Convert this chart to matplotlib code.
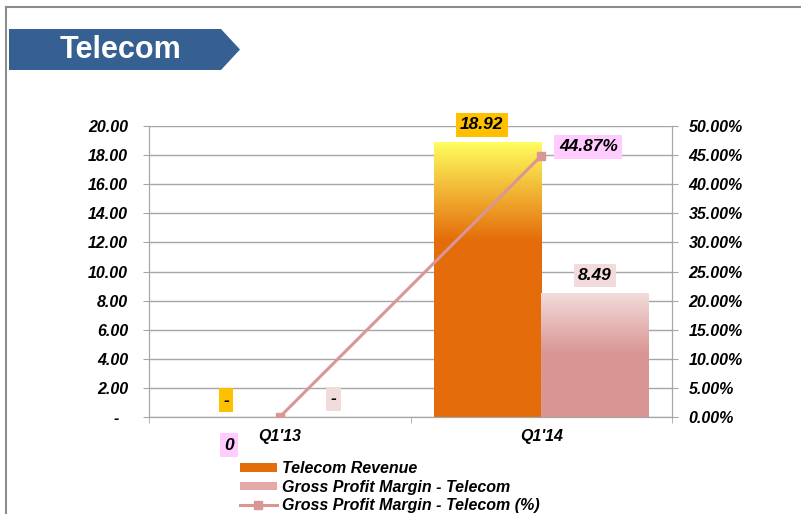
import matplotlib
matplotlib.use('Agg')
import matplotlib.pyplot as plt
import numpy as np
import matplotlib.colors as mcolors
from matplotlib.patches import Polygon, Patch
from matplotlib.lines import Line2D
from matplotlib.ticker import FuncFormatter, MultipleLocator

# ---------------- data ----------------
categories = ["Q1'13", "Q1'14"]
revenue = [0.0, 18.92]
gross_profit = [0.0, 8.49]
gpm_pct = [0.0, 0.4487]
revenue_labels = ['-', '18.92']
gp_labels = ['-', '8.49']
pct_labels = ['0', '44.87%']
title = 'Telecom'
legend_labels = ['Telecom Revenue', 'Gross Profit Margin - Telecom',
                 'Gross Profit Margin - Telecom (%)']

# ---------------- figure ----------------
plt.rcParams['font.family'] = ['Liberation Sans', 'DejaVu Sans']
W, H = 801, 514
fig = plt.figure(figsize=(W / 100, H / 100), dpi=100)
fig.patch.set_facecolor('white')

GRID = '#A6A6A6'
TICK_FS = 11.5
ax = fig.add_axes([149 / W, 1 - 417 / H, (672 - 149) / W, (417 - 126) / H])

x = np.arange(len(categories))
bw = 0.41
bars1 = ax.bar(x - bw / 2, revenue, bw, color='#E46C0A', zorder=2, linewidth=0)
bars2 = ax.bar(x + bw / 2, gross_profit, bw, color='#D99694', zorder=2, linewidth=0)


def grad_fill(axis, bar, top_color, bottom_color, frac):
    h = bar.get_height()
    if h <= 0:
        return
    x0, w, y0 = bar.get_x(), bar.get_width(), bar.get_y()
    n = 256
    t = np.linspace(0, 1, n)
    s = np.clip(t / frac, 0, 1)
    c0 = np.array(mcolors.to_rgb(top_color))
    c1 = np.array(mcolors.to_rgb(bottom_color))
    img = c0[None, :] * (1 - s[:, None]) + c1[None, :] * s[:, None]
    img = img[:, None, :]
    im = axis.imshow(img, extent=(x0, x0 + w, y0, y0 + h), aspect='auto',
                     origin='upper', zorder=2.1, interpolation='bilinear')
    im.set_clip_path(bar)


for b in bars1:
    grad_fill(ax, b, '#FFFF60', '#E46C0A', 0.36)
for b in bars2:
    grad_fill(ax, b, '#F2DCDB', '#D99694', 0.48)

ax.set_xlim(-0.5, 1.5)
ax.set_ylim(0, 20)
ax.set_axisbelow(True)
ax.yaxis.grid(True, color=GRID, linewidth=1.0)

ax.yaxis.set_major_locator(MultipleLocator(2))
ax.yaxis.set_major_formatter(FuncFormatter(lambda v, p: '-  ' if abs(v) < 1e-9 else f'{v:.2f}'))
ax.tick_params(axis='y', direction='out', length=4, color=GRID, pad=11,
               labelsize=TICK_FS)
ax.set_xticks(x)
ax.set_xticklabels(categories)
ax.set_xticks([-0.5, 0.5, 1.5], minor=True)
ax.tick_params(axis='x', which='major', length=0, pad=9, labelsize=TICK_FS)
ax.tick_params(axis='x', which='minor', direction='out', length=4, color=GRID)
for lbl in ax.get_yticklabels() + ax.get_xticklabels():
    lbl.set_fontweight('bold')
    lbl.set_fontstyle('italic')

for side in ['left', 'bottom', 'right']:
    ax.spines[side].set_color(GRID)
ax.spines['top'].set_visible(False)

# secondary axis
ax2 = ax.twinx()
ax2.set_ylim(0, 0.5)
ax2.yaxis.set_major_locator(MultipleLocator(0.05))
ax2.yaxis.set_major_formatter(FuncFormatter(lambda v, p: f'{v * 100:.2f}%'))
ax2.tick_params(axis='y', direction='out', length=4, color=GRID, pad=8,
                labelsize=TICK_FS)
for lbl in ax2.get_yticklabels():
    lbl.set_fontweight('bold')
    lbl.set_fontstyle('italic')
for side in ['left', 'bottom', 'right']:
    ax2.spines[side].set_color(GRID)
ax2.spines['top'].set_visible(False)

ax2.plot(x, gpm_pct, color='#D99694', linewidth=2.2, marker='s',
         markersize=6, zorder=3)

# data labels
lab_kw = dict(textcoords='offset pixels', ha='center', va='center',
              fontsize=12.5, fontweight='bold', fontstyle='italic',
              annotation_clip=False, zorder=5)
for b, txt in zip(bars1, revenue_labels):
    cx = b.get_x() + b.get_width() / 2
    dx = -6 if b.get_height() > 0 else 0
    ax.annotate(txt, (cx, b.get_height()), xytext=(dx, 17),
                bbox=dict(boxstyle='square,pad=0.25', fc='#FFC000', ec='none'),
                **lab_kw)
for b, txt in zip(bars2, gp_labels):
    cx = b.get_x() + b.get_width() / 2
    ax.annotate(txt, (cx, b.get_height()), xytext=(0, 18),
                bbox=dict(boxstyle='square,pad=0.25', fc='#F2DCDB', ec='none'),
                **lab_kw)
pct_offsets = [(-51, -28), (47, 9)]
for xi, v, txt, off in zip(x, gpm_pct, pct_labels, pct_offsets):
    ax2.annotate(txt, (xi, v), xytext=off,
                 bbox=dict(boxstyle='square,pad=0.25', fc='#FFCCFF', ec='none'),
                 **lab_kw)

# legend
handles = [Patch(facecolor='#E46C0A', edgecolor='none'),
           Patch(facecolor='#E3AAA8', edgecolor='none'),
           Line2D([], [], color='#D99694', linewidth=2.2, marker='s', markersize=6)]
fig.legend(handles, legend_labels, loc='upper left',
           bbox_to_anchor=(240 / W, 1 - 461 / H), frameon=False,
           borderpad=0, borderaxespad=0, handlelength=2.3, handleheight=0.45,
           handletextpad=0.3, labelspacing=0.22,
           prop=dict(weight='bold', style='italic', size=11.5))

# title banner
pts = [(9, 29), (221, 29), (240, 49.5), (221, 70), (9, 70)]
fig.add_artist(Polygon([(px / W, 1 - py / H) for px, py in pts], closed=True,
                       transform=fig.transFigure, facecolor='#366092',
                       edgecolor='none'))
fig.text(120 / W, 1 - 50 / H, title, color='white', fontsize=22,
         fontweight='bold', ha='center', va='center')

# outer frame (top and left edges visible)
fig.add_artist(Line2D([5.5 / W, 1], [1 - 6.5 / H, 1 - 6.5 / H],
                      transform=fig.transFigure, color='#8C8C8C', linewidth=1.5))
fig.add_artist(Line2D([5.5 / W, 5.5 / W], [0, 1 - 6.5 / H],
                      transform=fig.transFigure, color='#8C8C8C', linewidth=1.5))

fig.savefig('out.png', dpi=100)
